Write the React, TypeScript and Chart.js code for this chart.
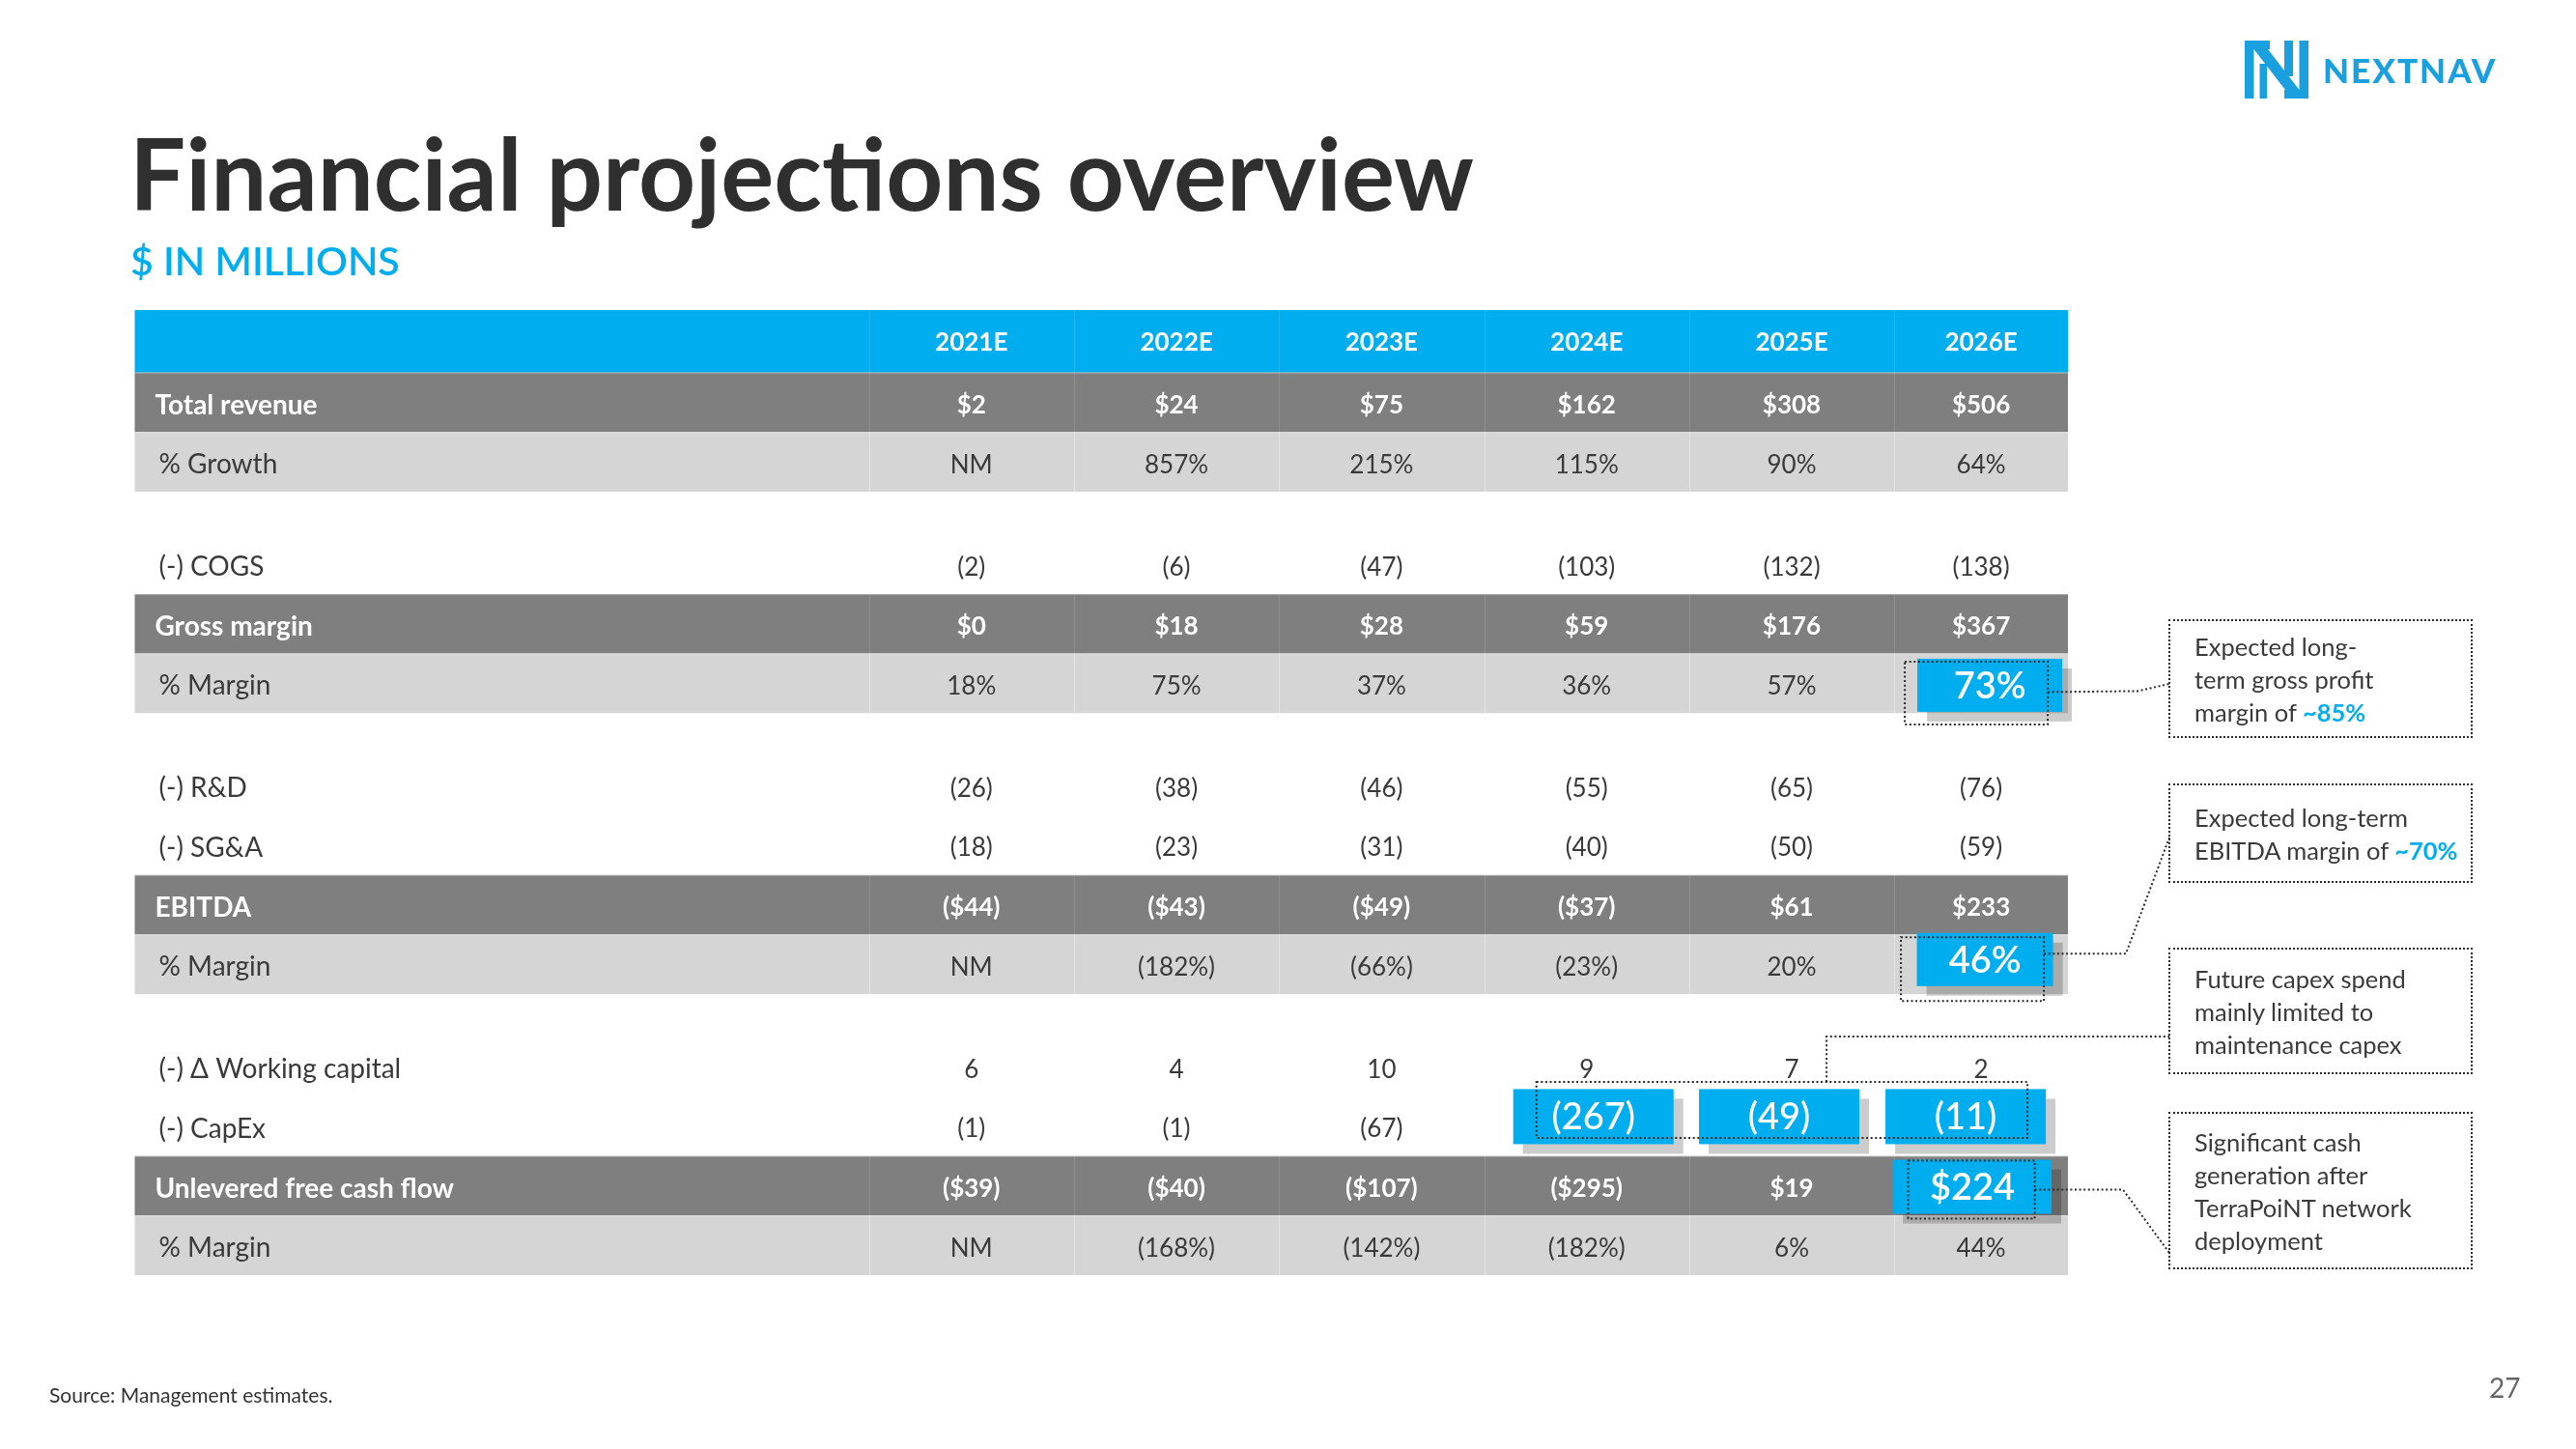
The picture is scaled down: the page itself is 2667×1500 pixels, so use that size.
import React, { useEffect, useRef } from 'react';
import { Chart, registerables } from 'chart.js';

Chart.register(...registerables);

// ---------------- data ----------------
const years = ['2021E', '2022E', '2023E', '2024E', '2025E', '2026E'];
const totalRevenue = [2, 24, 75, 162, 308, 506];
const revenueGrowthPct = [null, 857, 215, 115, 90, 64];
const cogs = [-2, -6, -47, -103, -132, -138];
const grossMargin = [0, 18, 28, 59, 176, 367];
const grossMarginPct = [18, 75, 37, 36, 57, 73];
const researchDev = [-26, -38, -46, -55, -65, -76];
const sgaExpense = [-18, -23, -31, -40, -50, -59];
const ebitda = [-44, -43, -49, -37, 61, 233];
const ebitdaMarginPct = [null, -182, -66, -23, 20, 46];
const workingCapital = [6, 4, 10, 9, 7, 2];
const capex = [-1, -1, -67, -267, -49, -11];
const unleveredFcf = [-39, -40, -107, -295, 19, 224];
const ufcfMarginPct = [null, -168, -142, -182, 6, 44];

type Kind = 'header' | 'bold' | 'light' | 'plain' | 'spacer';
type Fmt = 'usd' | 'num' | 'pct' | 'text';
interface Row { id: string; kind: Kind; label?: string; values?: (number | null)[]; cells?: string[]; fmt?: Fmt; }

const tableRows: Row[] = [
  { id: 'header', kind: 'header', label: '', cells: years, fmt: 'text' },
  { id: 'rev', kind: 'bold', label: 'Total revenue', values: totalRevenue, fmt: 'usd' },
  { id: 'growth', kind: 'light', label: '% Growth', values: revenueGrowthPct, fmt: 'pct' },
  { id: 's1', kind: 'spacer' },
  { id: 'cogs', kind: 'plain', label: '(-) COGS', values: cogs, fmt: 'num' },
  { id: 'gm', kind: 'bold', label: 'Gross margin', values: grossMargin, fmt: 'usd' },
  { id: 'gmPct', kind: 'light', label: '% Margin', values: grossMarginPct, fmt: 'pct' },
  { id: 's2', kind: 'spacer' },
  { id: 'rnd', kind: 'plain', label: '(-) R&D', values: researchDev, fmt: 'num' },
  { id: 'sga', kind: 'plain', label: '(-) SG&A', values: sgaExpense, fmt: 'num' },
  { id: 'ebitda', kind: 'bold', label: 'EBITDA', values: ebitda, fmt: 'usd' },
  { id: 'ebitdaPct', kind: 'light', label: '% Margin', values: ebitdaMarginPct, fmt: 'pct' },
  { id: 's3', kind: 'spacer' },
  { id: 'wc', kind: 'plain', label: '(-) \u0394 Working capital', values: workingCapital, fmt: 'num' },
  { id: 'capex', kind: 'plain', label: '(-) CapEx', values: capex, fmt: 'num' },
  { id: 'ufcf', kind: 'bold', label: 'Unlevered free cash flow', values: unleveredFcf, fmt: 'usd' },
  { id: 'ufcfPct', kind: 'light', label: '% Margin', values: ufcfMarginPct, fmt: 'pct' },
];

// highlighted cells: [dx, dy, w, h] relative to cell centre (styling)
const highlights = [
  { row: 'gmPct', col: 5, box: [9, 2, 150, 55], dots: [-5, 10, 148, 65], font: 600 },
  { row: 'ebitdaPct', col: 5, box: [4, -5, 141, 55], dots: [-9, 5, 148, 66], font: 600 },
  { row: 'capex', col: 3, box: [7, -10, 166, 57], font: 500 },
  { row: 'capex', col: 4, box: [-13, -10, 166, 57], font: 500 },
  { row: 'capex', col: 5, box: [-16, -10, 166, 57], font: 500 },
  { row: 'ufcf', col: 5, box: [-9, 1, 164, 56], dots: [-10, 4, 131, 60], font: 600 },
];

const callouts = [
  { top: 641, height: 123, lines: [['Expected long-'], ['term gross profit'], ['margin of ', '~85%']] },
  { top: 811, height: 103, lines: [['Expected long-term'], ['EBITDA margin of ', '~70%']] },
  { top: 981, height: 131, lines: [['Future capex spend'], ['mainly limited to'], ['maintenance capex']] },
  { top: 1151, height: 163, lines: [['Significant cash'], ['generation after'], ['TerraPoiNT network'], ['deployment']] },
];

// layout weights
const COL_WEIGHTS = [3.58, 1, 1, 1, 1, 1, 0.847];
const ROW_WEIGHTS: Record<Kind, number> = { header: 1.05, bold: 1, light: 1, plain: 1, spacer: 0.72 };

const BLUE = '#00AEEF';
const DARK = '#7F7F7F';
const LIGHT = '#D5D5D5';
const TEXT = '#3A3A3A';
const FONT = 'Lato, "Noto Sans", sans-serif';

function fmtValue(v: number | null, fmt: Fmt): string {
  if (v === null || v === undefined) return 'NM';
  const a = Math.abs(v);
  if (fmt === 'usd') return v < 0 ? `($${a})` : `$${a}`;
  if (fmt === 'pct') return v < 0 ? `(${a}%)` : `${a}%`;
  return v < 0 ? `(${a})` : `${a}`;
}

const colCum: number[] = [];
COL_WEIGHTS.reduce((acc, w) => { colCum.push(acc); return acc + w; }, 0);
const COL_TOTAL = COL_WEIGHTS.reduce((a, b) => a + b, 0);
const rowCum: number[] = [];
tableRows.reduce((acc, r) => { rowCum.push(acc); return acc + ROW_WEIGHTS[r.kind]; }, 0);
const ROW_TOTAL = tableRows.reduce((a, r) => a + ROW_WEIGHTS[r.kind], 0);

function dotted(ctx: CanvasRenderingContext2D) {
  ctx.setLineDash([2, 2.6]);
  ctx.lineWidth = 2;
  ctx.strokeStyle = '#2a2a2a';
}

const tablePlugin = {
  id: 'finTable',
  afterDraw(chart: any) {
    const ctx: CanvasRenderingContext2D = chart.ctx;
    const xs = chart.scales.x;
    const ys = chart.scales.y;
    const left = xs.getPixelForValue(0);
    const right = xs.getPixelForValue(COL_TOTAL);
    const colCenter = (c: number) => xs.getPixelForValue(colCum[c + 1] + COL_WEIGHTS[c + 1] / 2);
    const rowTop = (i: number) => ys.getPixelForValue(rowCum[i]);
    const rowBot = (i: number) => ys.getPixelForValue(rowCum[i] + ROW_WEIGHTS[tableRows[i].kind]);
    const rowIdx = (id: string) => tableRows.findIndex((r) => r.id === id);
    const hidden = new Set(highlights.map((h) => `${h.row}:${h.col}`));

    ctx.save();
    tableRows.forEach((row, i) => {
      if (row.kind === 'spacer') return;
      const top = rowTop(i);
      const bot = rowBot(i);
      const cy = (top + bot) / 2 + (row.kind === 'header' ? 1 : 3);
      const bg = row.kind === 'header' ? BLUE : row.kind === 'bold' ? DARK : row.kind === 'light' ? LIGHT : null;
      if (bg) {
        ctx.fillStyle = bg;
        ctx.fillRect(left, top, right - left, bot - top);
        ctx.fillStyle = row.kind === 'light' ? 'rgba(255,255,255,0.35)' : 'rgba(255,255,255,0.13)';
        for (let c = 1; c < COL_WEIGHTS.length; c++) {
          const xx = Math.round(xs.getPixelForValue(colCum[c])) + 0.5;
          ctx.fillRect(xx - 0.5, top, 1, bot - top);
        }
        if (row.kind !== 'header') {
          ctx.fillStyle = 'rgba(255,255,255,0.3)';
          ctx.fillRect(left, top, right - left, 1);
        }
      }
      const white = row.kind === 'header' || row.kind === 'bold';
      const weight = white ? 700 : 400;
      ctx.fillStyle = white ? '#FFFFFF' : TEXT;
      ctx.textBaseline = 'middle';
      if (row.label) {
        ctx.font = `${weight} 28px ${FONT}`;
        ctx.textAlign = 'left';
        ctx.fillText(row.label, left + (white ? 21 : 25), cy);
      }
      ctx.font = `${weight} 26px ${FONT}`;
      ctx.textAlign = 'center';
      const n = years.length;
      for (let c = 0; c < n; c++) {
        if (hidden.has(`${row.id}:${c}`)) continue;
        const txt = row.cells ? row.cells[c] : fmtValue(row.values![c], row.fmt!);
        ctx.fillText(txt, colCenter(c), cy);
      }
    });

    // highlight boxes
    const cellCenter = (id: string, c: number) => {
      const i = rowIdx(id);
      return { x: colCenter(c), y: (rowTop(i) + rowBot(i)) / 2 };
    };
    highlights.forEach((h) => {
      const { x, y } = cellCenter(h.row, h.col);
      const [dx, dy, w, hh] = h.box;
      const bx = x + dx - w / 2;
      const by = y + dy - hh / 2;
      ctx.fillStyle = 'rgba(0,0,0,0.2)';
      ctx.fillRect(bx + 10, by + 10, w, hh);
      ctx.fillStyle = BLUE;
      ctx.fillRect(bx, by, w, hh);
      const row = tableRows[rowIdx(h.row)];
      ctx.fillStyle = '#FFFFFF';
      ctx.font = `${h.font} 38px ${FONT}`;
      ctx.textAlign = 'center';
      ctx.textBaseline = 'middle';
      ctx.fillText(fmtValue(row.values![h.col], row.fmt!), x + dx, y + dy + 1);
    });

    // dotted outlines
    ctx.save();
    dotted(ctx);
    const dotRects: Record<string, { l: number; r: number; t: number; b: number }> = {};
    highlights.forEach((h) => {
      if (!h.dots) return;
      const { x, y } = cellCenter(h.row, h.col);
      const [dx, dy, w, hh] = h.dots;
      const l = x + dx - w / 2, t = y + dy - hh / 2;
      dotRects[h.row] = { l, r: l + w, t, b: t + hh };
      ctx.strokeRect(l, t, w, hh);
    });
    // capex group outline
    const c3 = cellCenter('capex', 3);
    const c5 = cellCenter('capex', 5);
    const g = { l: c3.x - 52, r: c5.x + 48, t: c3.y - 46, b: c3.y + 12 };
    ctx.strokeRect(g.l, g.t, g.r - g.l, g.b - g.t);

    // connectors to the callout boxes
    const calloutLeft = 2246;
    const path = (pts: number[][]) => {
      ctx.beginPath();
      pts.forEach(([px, py], k) => (k ? ctx.lineTo(px, py) : ctx.moveTo(px, py)));
      ctx.stroke();
    };
    const a = dotRects['gmPct'];
    const ay = (a.t + a.b) / 2 - 1;
    path([[a.r, ay], [2213, ay - 1], [calloutLeft, callouts[0].top + 67]]);
    const b = dotRects['ebitdaPct'];
    const byy = (b.t + b.b) / 2 - 16;
    path([[b.r, byy], [2201, byy], [calloutLeft, callouts[1].top + 56]]);
    const gx = xs.getPixelForValue(colCum[5] + 0.67);
    path([[gx, g.t], [gx, callouts[2].top + 92], [calloutLeft, callouts[2].top + 92]]);
    const d = dotRects['ufcf'];
    const dy2 = (d.t + d.b) / 2;
    path([[d.r, dy2], [2198, dy2], [calloutLeft, callouts[3].top + 146]]);
    ctx.restore();
    ctx.restore();
  },
};

function Logo() {
  const c = '#1A9FDF';
  return (
    <div style={{ position: 'absolute', left: 2324, top: 42, display: 'flex', alignItems: 'center' }}>
      <svg width={66} height={60} viewBox="0 0 66 60">
        <g fill={c}>
          <rect x={0} y={0} width={9.5} height={60} />
          <rect x={0} y={0} width={26} height={9} />
          <rect x={15.5} y={24} width={7.5} height={36} />
          <polygon points="9.5,9 24,9 56.5,51 42,51" />
          <rect x={41} y={0} width={9} height={37} />
          <rect x={56.5} y={0} width={9.5} height={60} />
          <rect x={41} y={51} width={25} height={9} />
        </g>
      </svg>
      <div style={{ marginLeft: 15, color: c, fontWeight: 900, fontSize: 35, letterSpacing: 2, lineHeight: 1 }}>NEXTNAV</div>
    </div>
  );
}

export default function App() {
  const ref = useRef<HTMLCanvasElement>(null);
  useEffect(() => {
    const chart = new Chart(ref.current!, {
      type: 'scatter',
      data: { datasets: [{ data: [] }] },
      options: {
        responsive: false,
        animation: false,
        events: [],
        layout: { padding: { left: 139.5, top: 321, right: 2667 - 2141, bottom: 1500 - 1320 } },
        scales: {
          x: { type: 'linear', display: false, min: 0, max: COL_TOTAL },
          y: { type: 'linear', display: false, min: 0, max: ROW_TOTAL, reverse: true },
        },
        plugins: { legend: { display: false }, tooltip: { enabled: false }, title: { display: false } },
      },
      plugins: [tablePlugin],
    } as any);
    return () => chart.destroy();
  }, []);

  return (
    <div style={{ position: 'absolute', left: 0, top: 0, width: 2667, height: 1500, background: '#fff', overflow: 'hidden', fontFamily: FONT }}>
      <canvas ref={ref} width={2667} height={1500} style={{ position: 'absolute', left: 0, top: 0, width: 2667, height: 1500 }} />
      <div style={{ position: 'absolute', left: 134, top: 127, fontSize: 103, fontWeight: 700, color: '#2F2F2F', lineHeight: 1, whiteSpace: 'nowrap' }}>
        Financial projections overview
      </div>
      <div style={{ position: 'absolute', left: 135, top: 249, fontSize: 41, fontWeight: 600, color: BLUE, lineHeight: 1, whiteSpace: 'nowrap' }}>
        $ IN MILLIONS
      </div>
      <Logo />
      {callouts.map((co, i) => (
        <div key={i} style={{ position: 'absolute', left: 2245, top: co.top, width: 315, height: co.height, boxSizing: 'border-box', border: '2px dotted #2a2a2a', display: 'flex', flexDirection: 'column', justifyContent: 'center', paddingLeft: 25, fontSize: 25.5, lineHeight: '34px', color: TEXT }}>
          {co.lines.map((ln, j) => (
            <div key={j} style={{ whiteSpace: 'nowrap' }}>
              {ln[0]}
              {ln[1] ? <span style={{ color: BLUE, fontWeight: 700 }}>{ln[1]}</span> : null}
            </div>
          ))}
        </div>
      ))}
      <div style={{ position: 'absolute', left: 51, top: 1433, fontSize: 21, color: '#333', lineHeight: 1, whiteSpace: 'nowrap' }}>
        Source: Management estimates.
      </div>
      <div style={{ position: 'absolute', left: 2577, top: 1422, fontSize: 28, color: '#666', lineHeight: 1 }}>27</div>
    </div>
  );
}
